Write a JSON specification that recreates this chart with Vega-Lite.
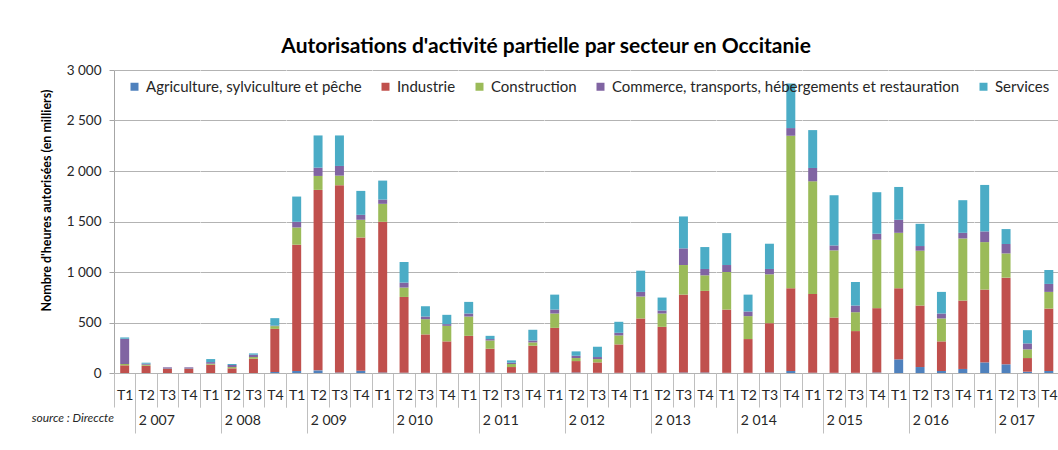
{
  "$schema": "https://vega.github.io/schema/vega-lite/v6.json",
  "padding": {"left": 31, "top": 36, "right": 0, "bottom": 5},
  "title": {"text": "Autorisations d'activité partielle par secteur en Occitanie", "fontSize": 21, "fontWeight": "bold", "font": "Lato", "color": "#000000", "anchor": "middle", "frame": "bounds", "offset": 6},
  "data": {"values": [
    {"yr": "2 007", "q": "T1", "s1": 0, "s2": 76, "s3": 13, "s4": 250, "s5": 13},
    {"yr": "2 007", "q": "T2", "s1": 0, "s2": 72, "s3": 10, "s4": 10, "s5": 10},
    {"yr": "2 007", "q": "T3", "s1": 0, "s2": 40, "s3": 3, "s4": 13, "s5": 0},
    {"yr": "2 007", "q": "T4", "s1": 0, "s2": 40, "s3": 3, "s4": 13, "s5": 0},
    {"yr": "2 008", "q": "T1", "s1": 0, "s2": 82, "s3": 10, "s4": 16, "s5": 30},
    {"yr": "2 008", "q": "T2", "s1": 0, "s2": 46, "s3": 13, "s4": 20, "s5": 10},
    {"yr": "2 008", "q": "T3", "s1": 0, "s2": 141, "s3": 17, "s4": 23, "s5": 13},
    {"yr": "2 008", "q": "T4", "s1": 10, "s2": 427, "s3": 27, "s4": 6, "s5": 73},
    {"yr": "2 009", "q": "T1", "s1": 20, "s2": 1250, "s3": 171, "s4": 56, "s5": 250},
    {"yr": "2 009", "q": "T2", "s1": 26, "s2": 1787, "s3": 138, "s4": 82, "s5": 319},
    {"yr": "2 009", "q": "T3", "s1": 5, "s2": 1854, "s3": 95, "s4": 96, "s5": 302},
    {"yr": "2 009", "q": "T4", "s1": 23, "s2": 1319, "s3": 175, "s4": 49, "s5": 237},
    {"yr": "2 010", "q": "T1", "s1": 5, "s2": 1492, "s3": 178, "s4": 42, "s5": 188},
    {"yr": "2 010", "q": "T2", "s1": 3, "s2": 750, "s3": 93, "s4": 49, "s5": 204},
    {"yr": "2 010", "q": "T3", "s1": 2, "s2": 380, "s3": 151, "s4": 26, "s5": 102},
    {"yr": "2 010", "q": "T4", "s1": 2, "s2": 311, "s3": 154, "s4": 17, "s5": 92},
    {"yr": "2 011", "q": "T1", "s1": 2, "s2": 366, "s3": 191, "s4": 30, "s5": 115},
    {"yr": "2 011", "q": "T2", "s1": 5, "s2": 235, "s3": 82, "s4": 14, "s5": 32},
    {"yr": "2 011", "q": "T3", "s1": 2, "s2": 57, "s3": 30, "s4": 13, "s5": 23},
    {"yr": "2 011", "q": "T4", "s1": 2, "s2": 268, "s3": 33, "s4": 19, "s5": 106},
    {"yr": "2 012", "q": "T1", "s1": 5, "s2": 442, "s3": 142, "s4": 39, "s5": 148},
    {"yr": "2 012", "q": "T2", "s1": 5, "s2": 113, "s3": 30, "s4": 23, "s5": 43},
    {"yr": "2 012", "q": "T3", "s1": 2, "s2": 103, "s3": 33, "s4": 20, "s5": 102},
    {"yr": "2 012", "q": "T4", "s1": 2, "s2": 281, "s3": 89, "s4": 26, "s5": 109},
    {"yr": "2 013", "q": "T1", "s1": 5, "s2": 535, "s3": 217, "s4": 46, "s5": 210},
    {"yr": "2 013", "q": "T2", "s1": 2, "s2": 455, "s3": 132, "s4": 30, "s5": 128},
    {"yr": "2 013", "q": "T3", "s1": 5, "s2": 771, "s3": 293, "s4": 165, "s5": 316},
    {"yr": "2 013", "q": "T4", "s1": 5, "s2": 808, "s3": 154, "s4": 63, "s5": 217},
    {"yr": "2 014", "q": "T1", "s1": 2, "s2": 626, "s3": 372, "s4": 69, "s5": 316},
    {"yr": "2 014", "q": "T2", "s1": 2, "s2": 334, "s3": 227, "s4": 46, "s5": 167},
    {"yr": "2 014", "q": "T3", "s1": 5, "s2": 488, "s3": 484, "s4": 53, "s5": 250},
    {"yr": "2 014", "q": "T4", "s1": 20, "s2": 819, "s3": 1510, "s4": 76, "s5": 441},
    {"yr": "2 015", "q": "T1", "s1": 3, "s2": 780, "s3": 1115, "s4": 132, "s5": 375},
    {"yr": "2 015", "q": "T2", "s1": 2, "s2": 547, "s3": 665, "s4": 49, "s5": 497},
    {"yr": "2 015", "q": "T3", "s1": 2, "s2": 413, "s3": 187, "s4": 66, "s5": 233},
    {"yr": "2 015", "q": "T4", "s1": 5, "s2": 637, "s3": 678, "s4": 59, "s5": 411},
    {"yr": "2 016", "q": "T1", "s1": 135, "s2": 704, "s3": 549, "s4": 129, "s5": 325},
    {"yr": "2 016", "q": "T2", "s1": 59, "s2": 609, "s3": 543, "s4": 46, "s5": 220},
    {"yr": "2 016", "q": "T3", "s1": 20, "s2": 293, "s3": 227, "s4": 49, "s5": 214},
    {"yr": "2 016", "q": "T4", "s1": 40, "s2": 677, "s3": 615, "s4": 56, "s5": 323},
    {"yr": "2 017", "q": "T1", "s1": 105, "s2": 721, "s3": 470, "s4": 106, "s5": 460},
    {"yr": "2 017", "q": "T2", "s1": 86, "s2": 858, "s3": 240, "s4": 93, "s5": 148},
    {"yr": "2 017", "q": "T3", "s1": 13, "s2": 135, "s3": 86, "s4": 59, "s5": 131},
    {"yr": "2 017", "q": "T4", "s1": 20, "s2": 618, "s3": 165, "s4": 79, "s5": 138}
  ]},
  "transform": [{"fold": ["s1", "s2", "s3", "s4", "s5"], "as": ["sector", "value"]}],
  "facet": {
    "column": {
      "field": "yr", "type": "ordinal", "title": "source : Direccte",
      "header": {
        "labelOrient": "bottom", "labelFontSize": 14, "labelColor": "#262626", "labelFont": "Lato", "labelPadding": -20,
        "titleOrient": "bottom", "titleAnchor": "start", "titleAlign": "right", "titleFontStyle": "italic", "titleFontWeight": "normal", "titleFontSize": 12, "titleColor": "#262626", "titleFont": "Lato", "titlePadding": -31
      }
    }
  },
  "spacing": {"column": 0},
  "spec": {
    "width": 85.5,
    "height": 303,
    "mark": {"type": "bar", "width": {"band": 0.42}},
    "encoding": {
      "x": {
        "field": "q", "type": "ordinal", "title": null,
        "scale": {"paddingInner": 0, "paddingOuter": 0},
        "axis": {
          "labelAngle": 0, "tickBand": "extent",
          "tickSize": {"condition": {"test": "datum.value === 'T1'", "value": 60}, "value": 34},
          "labelPadding": {"condition": {"test": "datum.value === 'T1'", "value": -45}, "value": -19},
          "tickColor": "#bfbfbf", "domainColor": "#bfbfbf", "labelFontSize": 14, "labelColor": "#262626", "labelFont": "Lato"
        }
      },
      "y": {
        "field": "value", "type": "quantitative", "stack": "zero",
        "scale": {"domain": [0, 3000]},
        "axis": {
          "values": [0, 500, 1000, 1500, 2000, 2500, 3000], "format": ",d",
          "title": "Nombre d'heures autorisées (en milliers)", "titleFontSize": 12.5, "titleFontWeight": "bold", "titleColor": "#000000", "titleFont": "Lato", "titlePadding": 13, "titleY": 130,
          "labelFontSize": 13.5, "labelColor": "#262626", "labelFont": "Lato", "labelPadding": 8,
          "tickSize": 5, "tickColor": "#a6a6a6", "domainColor": "#a6a6a6", "gridColor": "#b3b3b3"
        }
      },
      "color": {
        "field": "sector", "type": "nominal",
        "scale": {"domain": ["s1", "s2", "s3", "s4", "s5"], "range": ["#4f81bd", "#c0504d", "#9bbb59", "#8064a2", "#4bacc6"]},
        "legend": {
          "title": null, "orient": "none", "direction": "horizontal", "columns": 5, "legendX": 13, "legendY": 9,
          "symbolType": "square", "symbolSize": 64, "symbolStrokeWidth": 0, "labelFontSize": 15, "labelColor": "#262626", "labelFont": "Lato", "columnPadding": 16, "labelLimit": 450,
          "labelExpr": "{'s1': 'Agriculture, sylviculture et pêche', 's2': 'Industrie', 's3': 'Construction', 's4': 'Commerce, transports, hébergements et restauration', 's5': 'Services'}[datum.label]"
        }
      },
      "order": {"field": "sector", "sort": "ascending"}
    }
  },
  "config": {
    "font": "Lato",
    "view": {"stroke": null},
    "locale": {"number": {"decimal": ",", "thousands": " ", "grouping": [3], "currency": ["", " €"]}}
  }
}
